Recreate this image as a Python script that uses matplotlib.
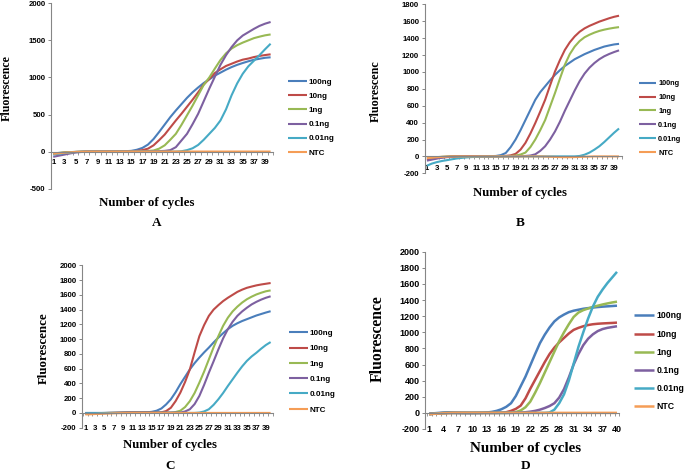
import matplotlib.pyplot as plt
import matplotlib.ticker as mticker

# cycle numbers (x categories)
cycles = list(range(1, 41))
series_names = ['100ng', '10ng', '1ng', '0.1ng', '0.01ng', 'NTC']
colors = ['#4A7EBB', '#BE4B48', '#98B954', '#7D60A0', '#46AAC5', '#F59D56']

# ---- panel A ----
A_100 = [-25, -18, -12, -7, -4, -2, 0, 1, 2, 2,
         2, 3, 4, 6, 10, 25, 50, 95, 170, 265,
         365, 465, 555, 640, 725, 800, 865, 925, 975, 1025,
         1065, 1105, 1140, 1170, 1195, 1218, 1238, 1252, 1265, 1272]
A_10 = [-30, -22, -15, -9, -5, -2, 0, 1, 1, 2,
        2, 2, 2, 3, 5, 9, 20, 40, 85, 155,
        230, 325, 420, 510, 605, 700, 800, 905, 980, 1060,
        1110, 1155, 1185, 1215, 1240, 1255, 1275, 1290, 1302, 1312]
A_1 = [-25, -18, -12, -7, -4, -2, 0, 1, 1, 1,
       2, 2, 2, 2, 3, 4, 6, 9, 15, 40,
       85, 160, 240, 360, 490, 620, 760, 900, 1000, 1120,
       1235, 1325, 1390, 1435, 1470, 1500, 1530, 1550, 1568, 1580]
A_01 = [-70, -55, -40, -25, -12, -5, 0, 2, 2, 2,
        2, 2, 2, 2, 2, 2, 2, 3, 4, 6,
        10, 20, 60, 150, 240, 370, 510, 680, 850, 1010,
        1170, 1300, 1410, 1500, 1565, 1610, 1655, 1695, 1725, 1748]
A_001 = [-40, -30, -20, -12, -6, -3, -1, 0, 0, 0,
         0, 0, 0, 0, 0, 0, 0, 0, 0, 0,
         0, 0, 0, 5, 20, 45, 90, 160, 240, 320,
         420, 570, 760, 920, 1050, 1150, 1225, 1300, 1380, 1455]
A_ntc = [-30, -22, -15, -9, -5, -2, 0, 1, 1, 1,
         1, 1, 1, 1, 1, 1, 1, 1, 1, 1,
         1, 1, 1, 1, 1, 1, 1, 1, 1, 1,
         1, 1, 1, 1, 1, 1, 1, 1, 1, 1]

# ---- panel B ----
B_100 = [-25, -18, -12, -7, -4, -2, 0, 1, 1, 1,
         1, 2, 2, 3, 5, 15, 40, 110, 200, 310,
         430, 550, 670, 760, 830, 900, 965, 1020, 1070, 1110,
         1150, 1180, 1210, 1235, 1260, 1280, 1300, 1313, 1325, 1332]
B_10 = [-40, -30, -20, -12, -6, -3, -1, 0, 1, 1,
        1, 1, 1, 1, 2, 3, 6, 12, 30, 80,
        160, 270, 395, 530, 670, 840, 1005, 1140, 1260, 1350,
        1420, 1475, 1515, 1545, 1570, 1595, 1615, 1635, 1652, 1665]
B_1 = [-20, -14, -9, -5, -3, -1, 0, 1, 1, 1,
       1, 1, 1, 1, 1, 2, 3, 5, 10, 22,
       45, 110, 200, 310, 430, 590, 750, 920, 1085, 1210,
       1300, 1365, 1410, 1440, 1465, 1485, 1500, 1512, 1522, 1530]
B_01 = [-50, -38, -26, -16, -9, -4, -1, 0, 1, 1,
        1, 1, 1, 1, 1, 1, 1, 2, 2, 3,
        5, 10, 25, 65, 120, 200, 295, 410, 540, 660,
        780, 890, 980, 1050, 1105, 1150, 1185, 1212, 1235, 1255]
B_001 = [-110, -85, -68, -55, -45, -35, -25, -18, -12, -8,
         -5, -3, -2, -1, 0, 0, 0, 0, 0, 0,
         0, 0, 0, 0, 0, 0, 0, 0, 0, 0,
         0, 5, 20, 45, 80, 120, 170, 225, 280, 330]
B_ntc = [-20, -15, -10, -6, -3, -1, 0, 0, 0, 0,
         0, 0, 0, 0, 0, 0, 0, 0, 0, 0,
         0, 0, 0, 0, -2, -4, -6, -8, -9, -9,
         -8, -6, -4, -2, 0, 0, 0, 0, 0, 0]

# ---- panel C ----
C_100 = [0, 0, 0, 0, 0, 0, 1, 2, 3, 4,
         5, 5, 6, 8, 15, 30, 60, 115, 185, 280,
         390, 490, 590, 675, 750, 820, 885, 955, 1020, 1080,
         1135, 1180, 1215, 1245, 1270, 1295, 1320, 1340, 1360, 1378]
C_10 = [-10, -8, -6, -4, -2, 0, 1, 3, 5, 7,
        8, 8, 8, 8, 7, 5, 8, 25, 70, 160,
        275, 420, 590, 820, 1040, 1190, 1315, 1400, 1460, 1515,
        1560, 1600, 1640, 1670, 1695, 1712, 1728, 1740, 1750, 1760]
C_1 = [-5, -4, -3, -2, -1, 0, 1, 2, 3, 4,
       5, 5, 5, 5, 5, 5, 5, 5, 5, 12,
       30, 80, 160, 270, 410, 560, 725, 890, 1040, 1180,
       1290, 1375, 1440, 1495, 1540, 1575, 1605, 1628, 1648, 1660]
C_01 = [-5, -4, -3, -2, -1, 0, 1, 2, 3, 4,
        5, 5, 5, 5, 5, 5, 5, 5, 5, 5,
        5, 20, 50, 120, 230, 380, 545, 700, 860, 1010,
        1135, 1235, 1315, 1375, 1425, 1470, 1505, 1535, 1560, 1580]
C_001 = [-5, -4, -3, -2, -1, 0, 0, 0, 0, 0,
         0, 0, 0, 0, 0, 0, 0, 0, 0, 0,
         0, 0, 0, 0, 5, 20, 50, 110, 185, 270,
         365, 455, 545, 630, 705, 765, 815, 870, 920, 960]
C_ntc = [-20, -18, -15, -12, -10, -8, -5, -3, -2, -1,
         0, 0, 0, 0, 0, 0, 0, 0, 0, 0,
         0, 0, 0, 0, 0, 0, 0, 0, 0, 0,
         0, 0, 0, 0, 0, 0, 0, 0, 0, 0]

# ---- panel D ----
D_100 = [-10, -5, 0, 3, 5, 3, 0, -2, -3, -3,
         -2, 0, 5, 12, 25, 45, 75, 120, 210, 330,
         450, 590, 730, 865, 970, 1060, 1135, 1185, 1220, 1250,
         1268, 1280, 1292, 1300, 1307, 1313, 1318, 1322, 1326, 1330]
D_10 = [-15, -10, -5, -2, 0, 0, 0, 0, 0, 0,
        0, 0, 0, 0, 0, 2, 8, 25, 50, 90,
        180, 300, 410, 520, 630, 730, 810, 875, 930, 985,
        1030, 1055, 1075, 1090, 1100, 1106, 1110, 1113, 1116, 1120]
D_1 = [-15, -10, -5, -2, 0, 0, 0, 0, 0, 0,
       0, 0, 0, 0, 0, 0, 0, 3, 10, 30,
       70, 140, 250, 370, 500, 630, 760, 890, 1000, 1100,
       1190, 1245, 1275, 1295, 1315, 1330, 1345, 1358, 1370, 1380]
D_01 = [-15, -10, -5, -2, 0, 0, 0, 0, 0, 0,
        0, 0, 0, 0, 0, 0, 0, 0, 2, 5,
        8, 15, 25, 40, 60, 85, 120, 190, 295, 440,
        600, 730, 840, 920, 975, 1015, 1040, 1055, 1065, 1075]
D_001 = [-15, -10, -5, -2, 0, 0, 0, 0, 0, 0,
         0, 0, 0, 0, 0, 0, 0, 0, 0, 0,
         0, 0, 0, 0, 0, 5, 40, 120, 230, 400,
         610, 820, 1000, 1170, 1320, 1440, 1530, 1610, 1680, 1750]
D_ntc = [-15, -12, -8, -5, -3, 0, 0, 0, 0, 0,
         0, 0, 0, 0, 0, 0, 0, 0, 0, 0,
         0, 0, 0, 0, 0, 0, 0, 0, 0, 0,
         0, 0, 0, 0, 0, 0, 0, 0, 0, 0]

W, H = 685, 472
fig = plt.figure(figsize=(W / 100, H / 100), dpi=100)
grey = '#868686'
sans = 'Liberation Sans'
serif = 'Liberation Serif'


def make_panel(box, data, ylim, ystep, xt, xlim, tick_fs, xpad, lw,
               leg_xy, leg_fs, leg_space, ylab, ylab_xy, ylab_fs,
               xlab_xy, xlab_fs, letter, letter_xy):
    l, r, t, b = box
    ax = fig.add_axes([l / W, 1 - b / H, (r - l) / W, (b - t) / H])
    # spine position first: moving a spine resets its ticks
    for s in ['top', 'right']:
        ax.spines[s].set_visible(False)
    ax.spines['bottom'].set_position(('data', 0))
    for s in ['left', 'bottom']:
        ax.spines[s].set_color(grey)
        ax.spines[s].set_linewidth(0.8)
    for vals, c, name in zip(data, colors, series_names):
        ax.plot(cycles, vals, color=c, lw=lw, label=name, solid_capstyle='butt')
    ax.set_xlim(*xlim)
    ax.set_ylim(*ylim)
    yt = list(range(ylim[0], ylim[1] + 1, ystep))
    ax.set_yticks(yt, [str(v) for v in yt], fontsize=tick_fs,
                  fontweight='bold', family=sans)
    ax.set_xticks(xt, [str(v) for v in xt], fontsize=tick_fs,
                  fontweight='bold', family=sans)
    ax.xaxis.set_minor_locator(mticker.FixedLocator([c + 0.5 for c in range(0, 41)]))
    ax.tick_params(axis='y', direction='out', length=2.5, width=0.7,
                   color=grey, pad=1.5)
    ax.tick_params(axis='x', which='major', length=0, pad=xpad)
    ax.tick_params(axis='x', which='minor', direction='out', length=2,
                   width=0.6, color=grey)
    ax.patch.set_alpha(0)
    ax.legend(loc='upper left', bbox_to_anchor=(leg_xy[0] / W, 1 - leg_xy[1] / H),
              bbox_transform=fig.transFigure, frameon=False, borderpad=0,
              borderaxespad=0, handlelength=2.3, handletextpad=0.3,
              labelspacing=leg_space,
              prop={'family': sans, 'weight': 'bold', 'size': leg_fs})
    fig.text(ylab_xy[0] / W, 1 - ylab_xy[1] / H, ylab, rotation=90,
             ha='center', va='center', family=serif, fontweight='bold',
             fontsize=ylab_fs)
    fig.text(xlab_xy[0] / W, 1 - xlab_xy[1] / H, 'Number of cycles',
             ha='center', va='center', family=serif, fontweight='bold',
             fontsize=xlab_fs)
    fig.text(letter_xy[0] / W, 1 - letter_xy[1] / H, letter,
             ha='center', va='center', family=serif, fontweight='bold',
             fontsize=9.5)
    return ax


odd = list(range(1, 40, 2))
every3 = list(range(1, 41, 3))

make_panel((51, 273.4, 3.3, 188.7), [A_100, A_10, A_1, A_01, A_001, A_ntc],
           (-500, 2000), 500, odd, (0.6, 40.5), 5.6, 5.0, 1.5,
           (288, 78.5), 5.8, 0.8, 'Fluorescence', (7, 88), 8.6,
           (147, 202.7), 9.3, 'A', (156.7, 222.7))

make_panel((424.7, 621.5, 4.3, 173.3), [B_100, B_10, B_1, B_01, B_001, B_ntc],
           (-200, 1800), 200, odd, (0.55, 40.5), 5.6, 6.0, 1.5,
           (639, 80), 5.3, 0.92, 'Fluorescenc', (376, 91), 8.7,
           (519.7, 193.3), 9.2, 'B', (519.7, 222.7))

make_panel((82, 273, 265.3, 427.7), [C_100, C_10, C_1, C_01, C_001, C_ntc],
           (-200, 2000), 200, odd, (0.3, 40.5), 5.6, 9.0, 1.5,
           (289, 329.5), 5.8, 0.95, 'Fluorescence', (44, 348.5), 9.3,
           (170.3, 445.3), 9.2, 'C', (170, 466))

make_panel((425.3, 619.4, 251.7, 429), [D_100, D_10, D_1, D_01, D_001, D_ntc],
           (-200, 2000), 200, every3, (0.2, 40.5), 6.5, 9.0, 1.8,
           (634, 311.5), 6.3, 1.05, 'Fluorescence', (378, 339), 11.3,
           (525.3, 448.3), 10.9, 'D', (526, 466.3))

fig.savefig('out.png', dpi=100)
